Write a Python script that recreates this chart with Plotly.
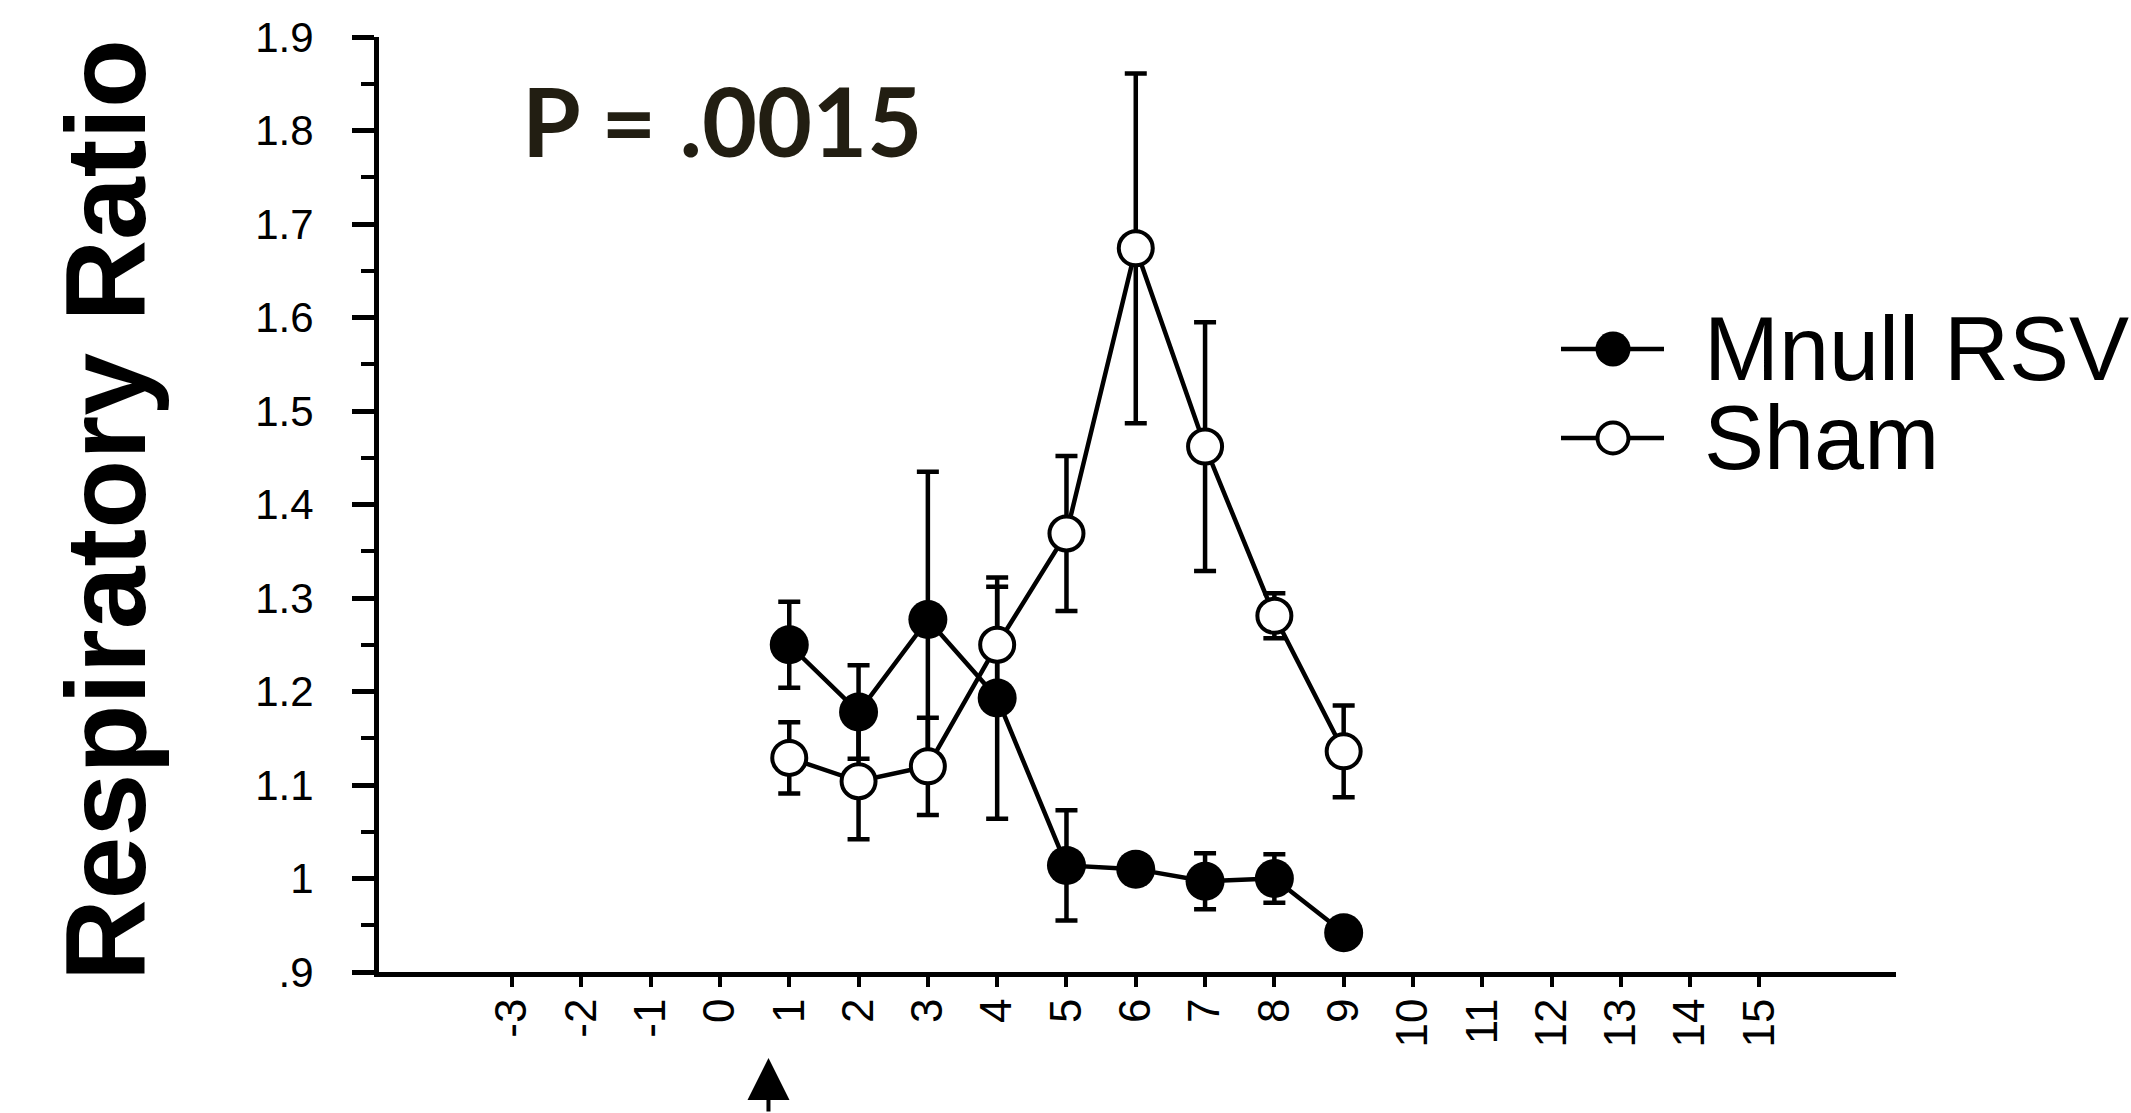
import plotly.graph_objects as go

# Days after infection and group means (respiratory ratio) with SEM
days = [1, 2, 3, 4, 5, 6, 7, 8, 9]
mnull_rsv = [1.250, 1.178, 1.277, 1.193, 1.014, 1.010, 0.997, 1.000, 0.942]
mnull_rsv_sem = [0.046, 0.050, 0.158, 0.129, 0.059, 0.015, 0.030, 0.026, 0.010]
sham = [1.129, 1.104, 1.120, 1.250, 1.369, 1.674, 1.462, 1.281, 1.136]
sham_sem = [0.038, 0.062, 0.052, 0.062, 0.083, 0.187, 0.133, 0.024, 0.049]

x_tick_values = list(range(-3, 16))
x_tick_labels = [str(v) for v in x_tick_values]
y_tick_values = [0.9, 1.0, 1.1, 1.2, 1.3, 1.4, 1.5, 1.6, 1.7, 1.8, 1.9]
y_tick_labels = [".9", "1", "1.1", "1.2", "1.3", "1.4", "1.5", "1.6", "1.7", "1.8", "1.9"]

series_names = ["Mnull RSV", "Sham"]
p_value_text = "P = .0015"
arrow_day = 0.7

W, H = 2131, 1113
PLOT_L, PLOT_R, PLOT_T, PLOT_B = 379, 1896, 37, 972
BLACK = "#000000"
TICK_FONT = "Liberation Sans, Arial, sans-serif"

fig = go.Figure()

# Mnull RSV: filled circles
fig.add_trace(go.Scatter(
    x=days, y=mnull_rsv, mode="lines+markers", name=series_names[0],
    line=dict(color=BLACK, width=4.5),
    marker=dict(symbol="circle", size=39, color=BLACK, line=dict(width=0)),
    error_y=dict(type="data", array=mnull_rsv_sem, visible=True,
                 color=BLACK, thickness=4.5, width=11),
    showlegend=False, cliponaxis=False,
))

# Sham: open circles
fig.add_trace(go.Scatter(
    x=days, y=sham, mode="lines+markers", name=series_names[1],
    line=dict(color=BLACK, width=4.5),
    marker=dict(symbol="circle", size=34, color="white",
                line=dict(color=BLACK, width=4)),
    error_y=dict(type="data", array=sham_sem, visible=True,
                 color=BLACK, thickness=4.5, width=11),
    showlegend=False, cliponaxis=False,
))

# Hand-drawn legend on a full-figure pixel overlay
legend_rows = [349, 438]
legend_line_x = [1561, 1664]
legend_marker_x = 1613
legend_styles = [
    dict(symbol="circle", size=35, color=BLACK, line=dict(width=0)),
    dict(symbol="circle", size=31, color="white", line=dict(color=BLACK, width=4)),
]
for row_y, name, mstyle in zip(legend_rows, series_names, legend_styles):
    fig.add_trace(go.Scatter(
        x=legend_line_x, y=[row_y, row_y], mode="lines",
        line=dict(color=BLACK, width=4.5),
        xaxis="x2", yaxis="y2", showlegend=False, hoverinfo="skip",
    ))
    fig.add_trace(go.Scatter(
        x=[legend_marker_x], y=[row_y], mode="markers", marker=mstyle,
        xaxis="x2", yaxis="y2", showlegend=False, hoverinfo="skip",
    ))
    fig.add_annotation(
        x=1702, y=row_y, xref="x2", yref="y2", text=name, showarrow=False,
        xanchor="left", yanchor="middle",
        font=dict(family=TICK_FONT, size=90, color=BLACK),
    )

# Axis title
fig.add_annotation(
    x=106, y=510, xref="x2", yref="y2", text="Respiratory Ratio",
    showarrow=False, textangle=-90, xanchor="center", yanchor="middle",
    font=dict(family="Liberation Sans, Arial, sans-serif", size=113,
              color=BLACK, weight="bold"),
)

# Significance label
fig.add_annotation(
    x=722, y=120, xref="x2", yref="y2", text=p_value_text, showarrow=False,
    xanchor="center", yanchor="middle",
    font=dict(family="Lato, Open Sans, sans-serif", size=95,
              color="#221e12", weight="bold"),
)

# Arrow marking the infection day
fig.add_annotation(
    x=arrow_day, xref="x", y=1058, yref="y2", text="",
    showarrow=True, ax=0, ay=55, arrowhead=2, arrowsize=2.1,
    arrowwidth=4, arrowcolor=BLACK, standoff=0,
)

fig.update_layout(
    width=W, height=H,
    margin=dict(l=0, r=0, t=0, b=0, autoexpand=False),
    paper_bgcolor="white", plot_bgcolor="rgba(0,0,0,0)",
    showlegend=False,
    xaxis=dict(
        domain=[PLOT_L / W, PLOT_R / W], range=[-4.92, 16.97],
        showline=True, linecolor=BLACK, linewidth=5,
        ticks="outside", ticklen=10, tickwidth=4, tickcolor=BLACK,
        tickvals=x_tick_values, ticktext=x_tick_labels, tickangle=-90,
        tickfont=dict(family=TICK_FONT, size=44, color=BLACK),
        ticklabelstandoff=-6,
        showgrid=False, zeroline=False, anchor="y", automargin=False,
    ),
    yaxis=dict(
        domain=[(H - PLOT_B) / H, (H - PLOT_T) / H], range=[0.9, 1.9],
        showline=True, linecolor=BLACK, linewidth=5,
        ticks="outside", ticklen=22, tickwidth=5, tickcolor=BLACK,
        tickvals=y_tick_values, ticktext=y_tick_labels,
        tickfont=dict(family=TICK_FONT, size=42, color=BLACK),
        ticklabelstandoff=30,
        minor=dict(ticks="outside", ticklen=13, tickwidth=4, tickcolor=BLACK,
                   tick0=0.9, dtick=0.05, showgrid=False),
        showgrid=False, zeroline=False, anchor="x", automargin=False,
    ),
    xaxis2=dict(domain=[0, 1], range=[0, W], visible=False, anchor="y2",
                fixedrange=True, automargin=False),
    yaxis2=dict(domain=[0, 1], range=[H, 0], visible=False, anchor="x2",
                fixedrange=True, automargin=False),
)

fig.write_html("out.html")
